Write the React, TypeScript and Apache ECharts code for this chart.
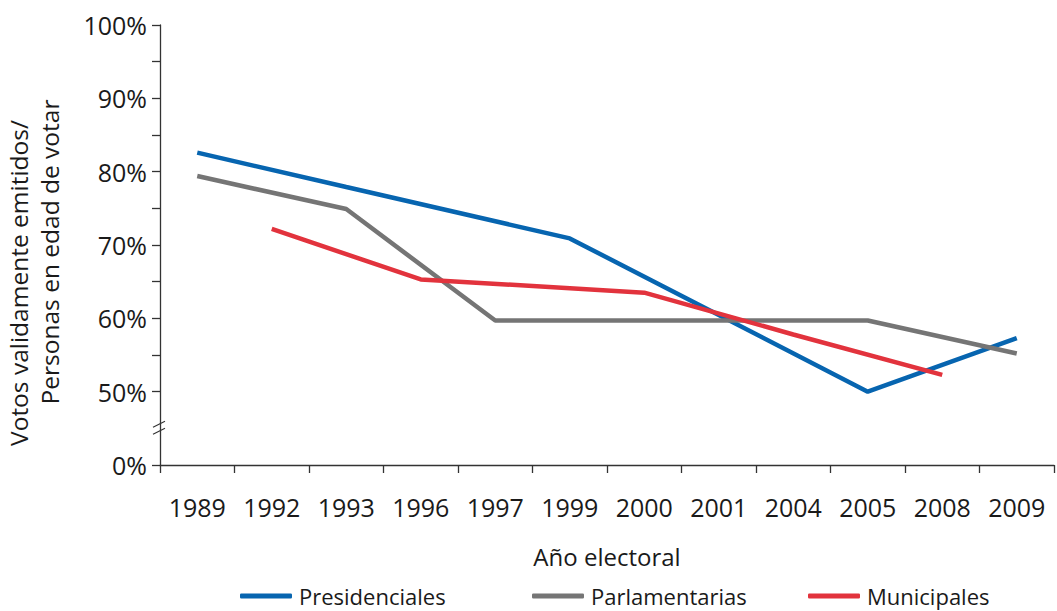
import React, { useEffect, useRef } from "react";
import * as echarts from "echarts";

const years = ["1989", "1992", "1993", "1996", "1997", "1999", "2000", "2001", "2004", "2005", "2008", "2009"];
const presidenciales = [82.6, null, 77.9, null, null, 70.9, null, null, null, 50.0, null, 57.3];
const parlamentarias = [79.4, null, 74.9, null, 59.7, null, null, 59.7, null, 59.7, null, 55.2];
const municipales = [null, 72.2, null, 65.3, null, null, 63.5, null, 57.8, null, 52.3, null];
const yTickValues = [40, 50, 55, 60, 65, 70, 75, 80, 85, 90, 95, 100];
const yLabelValues = [40, 50, 60, 70, 80, 90, 100];
const seriesNames = ["Presidenciales", "Parlamentarias", "Municipales"];
const seriesColors = ["#0765b0", "#757575", "#e2333d"];

const LABEL_FONT = "'Open Sans', 'Noto Sans', sans-serif";
const COND_FONT = "'Open Sans', 'Noto Sans', sans-serif";
const GRID_LEFT = 160;

export default function App() {
  const ref = useRef<HTMLDivElement>(null);
  useEffect(() => {
    if (!ref.current) return;
    const chart = echarts.init(ref.current, null, { renderer: "svg" });
    const seriesData = [presidenciales, parlamentarias, municipales];
    const legendLefts = [240, 532, 808];
    chart.setOption({
      animation: false,
      backgroundColor: "#ffffff",
      grid: { left: GRID_LEFT, right: 3, top: 25, bottom: 146, containLabel: false },
      legend: seriesNames.map((n, i) => ({
        data: [n],
        left: legendLefts[i],
        top: 585,
        padding: 0,
        icon: "roundRect",
        itemWidth: 52,
        itemHeight: 5,
        itemGap: 9,
        textStyle: { fontFamily: COND_FONT, fontSize: 22, color: "#1a1a1a", padding: [0, 0, 0, 2] },
      })),
      xAxis: {
        type: "category",
        data: years,
        boundaryGap: true,
        name: "Año electoral",
        nameLocation: "middle",
        nameGap: 79,
        nameTextStyle: { fontFamily: COND_FONT, fontSize: 24, color: "#1a1a1a" },
        axisLine: { lineStyle: { color: "#333333", width: 1.3 } },
        axisTick: { show: true, length: 8, lineStyle: { color: "#333333", width: 1.3 } },
        axisLabel: { fontFamily: LABEL_FONT, fontSize: 25, color: "#1a1a1a", margin: 29, interval: 0 },
        splitLine: { show: false },
      },
      yAxis: {
        type: "value",
        min: 40,
        max: 100,
        interval: 10,
        axisLine: { show: true, lineStyle: { color: "#333333", width: 1.3 } },
        axisTick: { show: true, length: 8, customValues: yTickValues, lineStyle: { color: "#333333", width: 1.3 } },
        axisLabel: {
          customValues: yLabelValues,
          fontFamily: LABEL_FONT,
          fontSize: 25,
          color: "#1a1a1a",
          margin: 13,
          formatter: (v: number) => (v === 40 ? "0%" : v + "%"),
        },
        splitLine: { show: false },
      },
      series: seriesNames.map((n, i) => ({
        name: n,
        type: "line",
        data: seriesData[i],
        connectNulls: true,
        symbol: "none",
        color: seriesColors[i],
        lineStyle: { width: 4.5, color: seriesColors[i] },
      })),
    });

    const yBreak = chart.convertToPixel({ yAxisIndex: 0 }, 45) as number;
    chart.setOption({
      graphic: [
        {
          type: "line",
          shape: { x1: GRID_LEFT - 7, y1: yBreak - 1, x2: GRID_LEFT + 5, y2: yBreak - 7 },
          style: { stroke: "#333333", lineWidth: 1.1 },
        },
        {
          type: "line",
          shape: { x1: GRID_LEFT - 7, y1: yBreak + 6, x2: GRID_LEFT + 5, y2: yBreak },
          style: { stroke: "#333333", lineWidth: 1.1 },
        },
        {
          type: "text",
          x: 18,
          y: 283,
          rotation: Math.PI / 2,
          style: {
            text: "Votos validamente emitidos/",
            fontFamily: LABEL_FONT,
            fontSize: 24.5,
            fill: "#1a1a1a",
            align: "center",
            verticalAlign: "middle",
          },
        },
        {
          type: "text",
          x: 49,
          y: 252,
          rotation: Math.PI / 2,
          style: {
            text: "Personas en edad de votar",
            fontFamily: LABEL_FONT,
            fontSize: 24.5,
            fill: "#1a1a1a",
            align: "center",
            verticalAlign: "middle",
          },
        },
      ],
    });

    return () => chart.dispose();
  }, []);
  return <div ref={ref} style={{ width: 1057, height: 611, position: "absolute", left: 0, top: 0 }} />;
}
